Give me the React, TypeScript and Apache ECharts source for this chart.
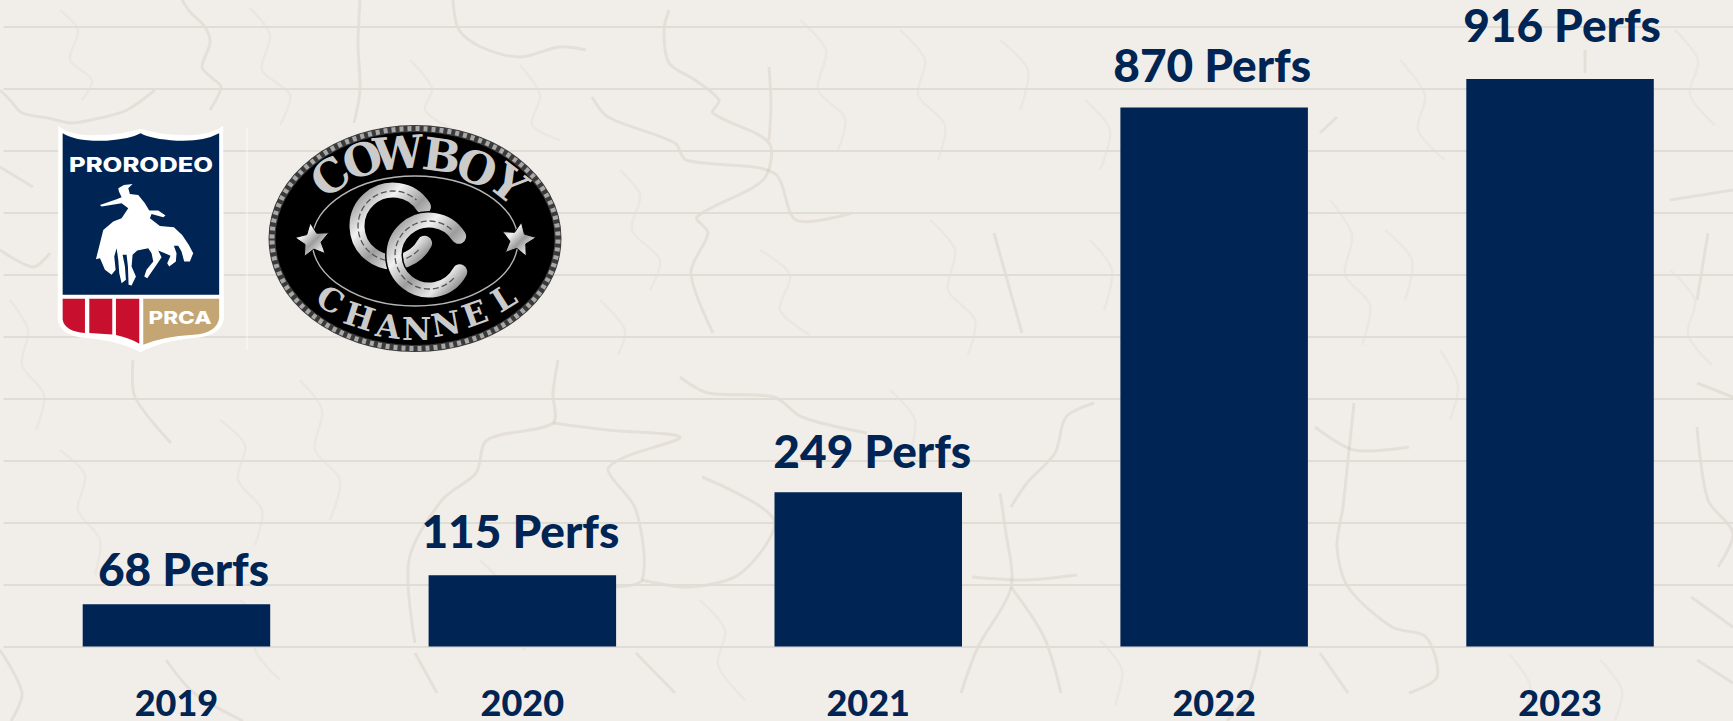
import React, { useEffect, useRef } from "react";
import * as echarts from "echarts";

const years = ["2019", "2020", "2021", "2022", "2023"];
const perfs = [68, 115, 249, 870, 916];
const labelNudges = [[7, 1], [-2, -8], [4, -5], [-2, -6], [2, -18]];
const navy = "#002554";

// Decorative paper texture (background cracks), not chart data.
const cracks: number[][][] = [
  [[182,0],[190,12],[205,27],[210,43],[202,67],[212,78],[221,87],[210,110]],
  [[0,90],[10,100],[22,113],[48,118],[72,123],[100,118],[127,110],[155,90]],
  [[360,0],[358,45],[360,90],[354,123]],
  [[453,0],[459,30],[481,47],[520,57],[559,47],[586,50]],
  [[669,10],[664,30],[669,63],[695,80],[719,100],[713,113],[769,143],[763,180],[697,217],[708,233],[691,273],[713,333]],
  [[769,67],[771,105],[769,140]],
  [[592,97],[608,117],[675,143],[686,160],[774,173],[796,220],[852,213]],
  [[0,167],[33,187]],
  [[0,250],[33,267],[50,253]],
  [[133,360],[135,397],[171,443]],
  [[558,360],[553,393],[553,423],[487,440],[476,473],[442,500],[409,560],[415,643]],
  [[553,423],[608,430],[680,437],[625,457],[608,470],[636,510],[642,580],[608,587]],
  [[642,580],[691,587],[741,573],[774,520],[702,477]],
  [[680,377],[708,393],[774,397],[802,417],[867,433]],
  [[0,650],[22,693],[11,721]],
  [[166,660],[194,693],[243,721]],
  [[636,653],[675,693]],
  [[415,653],[437,693]],
  [[1000,493],[1005,527],[1011,587],[978,647],[961,693]],
  [[1094,403],[1066,417],[1055,453],[1027,483],[1011,507]],
  [[972,577],[1025,580],[1077,575]],
  [[1011,587],[1044,637],[1061,693]],
  [[1260,650],[1249,693],[1227,721]],
  [[1320,653],[1348,693]],
  [[1354,403],[1348,460],[1343,507],[1337,547],[1348,587],[1392,627],[1426,637],[1437,677],[1409,693]],
  [[1315,427],[1354,450],[1409,447]],
  [[1697,383],[1733,397]],
  [[1697,427],[1708,500],[1733,533],[1718,567]],
  [[1691,597],[1733,627]],
  [[1697,660],[1733,683]],
  [[1585,50],[1585,73]],
  [[1670,200],[1733,190]],
  [[1708,233],[1697,300]],
  [[994,233],[1022,333]],
  [[1337,117],[1320,133]],
];

const fineCracks: number[][][] = [
  [[60,10],[78,30],[70,60],[92,80],[82,100]],
  [[250,8],[270,35],[262,70],[290,95],[280,125]],
  [[410,60],[432,88],[425,110],[450,128]],
  [[520,65],[540,95],[532,125],[560,140]],
  [[800,20],[826,50],[818,90],[845,118],[838,150]],
  [[620,170],[640,195],[632,230],[660,260],[650,290]],
  [[600,300],[625,330],[618,355]],
  [[760,250],[790,275],[780,310],[810,335]],
  [[10,300],[28,330],[22,365],[44,395],[36,430]],
  [[60,450],[85,475],[78,510],[100,540],[95,575]],
  [[220,420],[245,445],[238,480],[262,510],[255,545]],
  [[300,380],[322,410],[315,450],[340,480],[330,520]],
  [[240,600],[262,625],[255,650],[280,680]],
  [[480,560],[505,590],[498,620],[525,650]],
  [[700,600],[725,630],[718,665],[745,700]],
  [[900,30],[925,60],[918,95],[945,125],[938,160]],
  [[930,220],[955,250],[948,290],[975,320],[968,355]],
  [[890,390],[915,420],[908,460]],
  [[1000,40],[1028,70],[1020,110]],
  [[1085,100],[1110,130],[1100,170]],
  [[1090,240],[1112,270],[1104,310]],
  [[1330,200],[1352,235],[1345,275],[1370,305],[1362,345]],
  [[1400,60],[1425,95],[1418,130],[1445,160]],
  [[1385,230],[1412,260],[1405,300]],
  [[1440,350],[1458,385],[1450,420]],
  [[1675,30],[1698,60],[1690,95],[1715,125]],
  [[1670,270],[1695,300],[1688,335],[1712,365]],
  [[1100,640],[1122,670],[1115,705]],
  [[1510,655],[1530,685],[1525,715]],
  [[1600,660],[1622,690],[1615,720]],
];

const cowboyLetters: [string, number, number, number][] = [
  ["C", 212, 170, -38], ["O", 308, 120, -20], ["W", 415, 100, -5],
  ["B", 545, 108, 8], ["O", 650, 145, 22], ["Y", 745, 192, 38],
];
const channelLetters: [string, number, number, number][] = [
  ["C", 211, 540, 30], ["H", 298, 590, 18], ["A", 385, 620, 8], ["N", 470, 628, 0],
  ["N", 558, 612, -10], ["E", 645, 582, -20], ["L", 732, 535, -32],
];

const paths: Record<string, string> = {
  shieldOuter: "M25,18 Q60,46 130,46 Q220,44 272,26 Q325,44 410,46 Q480,46 520,18 L522,600 Q512,650 430,655 Q330,665 272,698 Q215,665 110,655 Q32,650 23,600 Z",
  shieldBlue: "M38,40 Q80,66 170,62 Q240,58 272,40 Q305,58 380,62 Q460,66 508,40 L508,525 L38,525 Z",
  red1: "M38,537 L105,537 L105,640 Q45,635 38,600 Z",
  red2: "M118,537 L187,537 L187,644 L118,640 Z",
  red3: "M198,537 L268,537 L268,672 Q240,655 198,646 Z",
  tan: "M280,537 L508,537 L508,595 Q500,640 430,645 Q340,650 280,675 Z",
  horse: "M150,255 L200,238 L215,232 L207,215 L205,205 L222,195 L248,192 L235,205 L240,222 L265,225 L285,250 L298,272 L325,272 L347,287 L340,292 L305,282 L300,295 L330,318 L372,322 L397,345 L417,375 L430,400 L420,425 L403,425 L395,395 L385,378 L372,378 L380,400 L378,425 L358,440 L352,430 L362,408 L345,400 L325,392 L335,412 L320,435 L292,475 L283,470 L290,450 L310,425 L305,400 L295,385 L262,392 L248,405 L245,440 L258,470 L245,497 L236,495 L234,440 L230,405 L218,405 L225,440 L228,480 L215,490 L208,460 L205,420 L200,385 L193,410 L197,450 L185,465 L165,450 L150,415 L138,418 L150,370 L160,330 L190,305 L215,295 L235,265 L215,250 L155,260 Z",
};
Object.keys(paths).forEach((k) => {
  echarts.graphic.registerShape(k, echarts.graphic.extendPath(paths[k], {}) as any);
});

const silver = () =>
  new echarts.graphic.LinearGradient(0, 0, 1, 1, [
    { offset: 0, color: "#8c8c8c" },
    { offset: 0.3, color: "#f2f2f2" },
    { offset: 0.55, color: "#9c9c9c" },
    { offset: 0.8, color: "#e8e8e8" },
    { offset: 1, color: "#7c7c7c" },
  ]);

function starPoints(cx: number, cy: number, R: number, r: number, rotDeg: number) {
  const pts: number[][] = [];
  for (let i = 0; i < 10; i++) {
    const a = ((-90 + rotDeg + i * 36) * Math.PI) / 180;
    const rad = i % 2 === 0 ? R : r;
    pts.push([cx + rad * Math.cos(a), cy + rad * Math.sin(a)]);
  }
  return pts;
}

function buildGraphics() {
  const els: any[] = [];
  cracks.forEach((c) => {
    els.push({
      type: "polyline", z: -1, silent: true,
      shape: { points: c, smooth: 0.3 },
      style: { fill: null, stroke: "rgba(196,186,170,0.27)", lineWidth: 3 },
    });
  });
  fineCracks.forEach((c) => {
    els.push({
      type: "polyline", z: -1, silent: true,
      shape: { points: c, smooth: 0.3 },
      style: { fill: null, stroke: "rgba(196,186,170,0.13)", lineWidth: 2.5 },
    });
  });
  let z2 = 1;
  const top = (e: any) => els.push({ z: 10, z2: z2++, silent: true, ...e });
  const shield = (name: string, fill: string) =>
    top({ type: name, x: 50, y: 120, scaleX: 1 / 3, scaleY: 1 / 3, style: { fill } });

  top({ type: "line", shape: { x1: 247, y1: 128, x2: 247, y2: 350 }, style: { stroke: "rgba(255,255,255,0.7)", lineWidth: 1 } });
  shield("shieldOuter", "#ffffff");
  shield("shieldBlue", navy);
  shield("red1", "#c8102e");
  shield("red2", "#c8102e");
  shield("red3", "#c8102e");
  shield("tan", "#c4a574");
  shield("horse", "#ffffff");
  top({ type: "text", x: 141, y: 165.5, scaleX: 1.28, style: { text: "PRORODEO", x: 0, y: 0, align: "center", verticalAlign: "middle", fill: "#fff", font: "800 20px Inter" } });
  top({ type: "text", x: 180, y: 317, scaleX: 1.25, style: { text: "PRCA", x: 0, y: 0, align: "center", verticalAlign: "middle", fill: "#fff", font: "800 18px Inter" } });

  const cx = 415, cy = 238.5;
  top({ type: "ellipse", shape: { cx, cy, rx: 143, ry: 110 }, style: { fill: "#000", stroke: "#3a3a3a", lineWidth: 7 } });
  top({ type: "ellipse", shape: { cx, cy, rx: 143, ry: 110 }, style: { fill: null, stroke: "#a8a8a8", lineWidth: 5, lineDash: [4, 4] } });
  top({ type: "ellipse", shape: { cx, cy: 241, rx: 103, ry: 65 }, style: { fill: null, stroke: "#b5b5b5", lineWidth: 1.4 } });

  const shoe = (scx: number, scy: number, r: number) => {
    top({ type: "arc", shape: { cx: scx, cy: scy, r, startAngle: 0.5, endAngle: 5.72 }, style: { fill: null, stroke: "#000", lineWidth: 18, lineCap: "round" } });
    top({ type: "arc", shape: { cx: scx, cy: scy, r, startAngle: 0.5, endAngle: 5.72 }, style: { fill: null, stroke: silver(), lineWidth: 15, lineCap: "round" } });
    top({ type: "arc", shape: { cx: scx, cy: scy, r: r - 1, startAngle: 0.75, endAngle: 5.45 }, style: { fill: null, stroke: "#555", lineWidth: 1.3, lineDash: [6, 3] } });
  };
  shoe(393, 226, 36);
  shoe(429, 255, 35);

  [[312.7, 240.7, -8], [518.3, 240, 10]].forEach(([sx, sy, rot]) => {
    top({ type: "polygon", shape: { points: starPoints(sx, sy, 18, 8.5, rot) }, style: { fill: silver(), stroke: "#000", lineWidth: 1 } });
  });

  const letter = (t: string, u: number, v: number, rot: number, size: number) =>
    top({
      type: "text", x: 260 + u / 3, y: 120 + v / 3, rotation: (-rot * Math.PI) / 180,
      style: { text: t, x: 0, y: 0, align: "center", verticalAlign: "middle", fill: "#cbcbcb", font: `bold ${size}px 'DejaVu Serif'` },
    });
  cowboyLetters.forEach(([t, u, v, rot]) => letter(t, u, v, rot, 45));
  channelLetters.forEach(([t, u, v, rot]) => letter(t, u, v, rot, 32));
  return els;
}

export default function App() {
  const ref = useRef<HTMLDivElement>(null);
  useEffect(() => {
    document.body.style.margin = "0";
    const chart = echarts.init(ref.current!, undefined, { renderer: "svg" });
    chart.setOption({
      animation: false,
      backgroundColor: "#f1eeea",
      graphic: { elements: buildGraphics() },
      grid: { left: 3.5, top: 27, width: 1732.5, height: 619.5 },
      xAxis: {
        type: "category",
        data: years,
        axisLine: { show: false },
        axisTick: { show: false },
        axisLabel: {
          margin: 40.5,
          color: navy,
          fontFamily: "Lato",
          fontWeight: 900,
          fontSize: 36,
          lineHeight: 30,
          interval: 0,
        },
      },
      yAxis: {
        type: "value",
        min: 0,
        max: 1000,
        interval: 100,
        axisLine: { show: false },
        axisTick: { show: false },
        axisLabel: { show: false },
        splitLine: { show: true, lineStyle: { color: "#e0dcd6", width: 2 } },
      },
      series: [
        {
          type: "bar",
          barWidth: 187.5,
          itemStyle: { color: navy },
          data: perfs.map((v, i) => ({
            value: v,
            label: { offset: labelNudges[i] },
          })),
          label: {
            show: true,
            position: "top",
            distance: 14,
            formatter: "{c} Perfs",
            color: navy,
            fontFamily: "Lato",
            fontWeight: 900,
            fontSize: 46,
          },
        },
      ],
    });
    return () => chart.dispose();
  }, []);
  return <div ref={ref} style={{ position: "absolute", left: 0, top: 0, width: 1733, height: 721 }} />;
}
